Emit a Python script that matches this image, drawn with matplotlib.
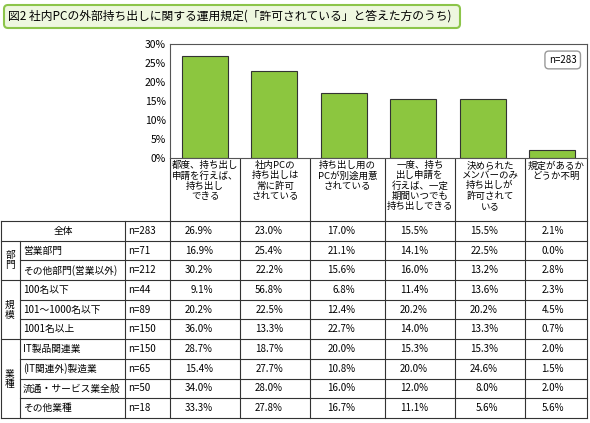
import matplotlib
matplotlib.use("Agg")
import matplotlib.pyplot as plt
from matplotlib.patches import FancyBboxPatch

plt.rcParams['font.family'] = ['Noto Sans CJK JP', 'DejaVu Sans']

title = "図2 社内PCの外部持ち出しに関する運用規定(「許可されている」と答えた方のうち)"
categories = ["都度、持ち出し\n申請を行えば、\n持ち出し\nできる", "社内PCの\n持ち出しは\n常に許可\nされている",
              "持ち出し用の\nPCが別途用意\nされている", "一度、持ち\n出し申請を\n行えば、一定\n期間いつでも\n持ち出しできる",
              "決められた\nメンバーのみ\n持ち出しが\n許可されて\nいる", "規定があるか\nどうか不明"]
overall = [26.9, 23.0, 17.0, 15.5, 15.5, 2.1]
yticks = [0, 5, 10, 15, 20, 25, 30]
row_labels = ["全体", "営業部門", "その他部門(営業以外)", "100名以下", "101～1000名以下", "1001名以上",
              "IT製品関連業", "(IT関連外)製造業", "流通・サービス業全般", "その他業種"]
row_n = [283, 71, 212, 44, 89, 150, 150, 65, 50, 18]
table = [
    [26.9, 23.0, 17.0, 15.5, 15.5, 2.1],
    [16.9, 25.4, 21.1, 14.1, 22.5, 0.0],
    [30.2, 22.2, 15.6, 16.0, 13.2, 2.8],
    [9.1, 56.8, 6.8, 11.4, 13.6, 2.3],
    [20.2, 22.5, 12.4, 20.2, 20.2, 4.5],
    [36.0, 13.3, 22.7, 14.0, 13.3, 0.7],
    [28.7, 18.7, 20.0, 15.3, 15.3, 2.0],
    [15.4, 27.7, 10.8, 20.0, 24.6, 1.5],
    [34.0, 28.0, 16.0, 12.0, 8.0, 2.0],
    [33.3, 27.8, 16.7, 11.1, 5.6, 5.6],
]
groups = [("部\n門", 1, 3), ("規\n模", 3, 6), ("業\n種", 6, 10)]

W, H = 590, 423
fig = plt.figure(figsize=(W/100, H/100), dpi=100)
bg = fig.add_axes([0, 0, 1, 1])
bg.set_xlim(0, W); bg.set_ylim(H, 0); bg.axis('off')

# title
bg.add_patch(FancyBboxPatch((4, 5), 456, 23, boxstyle="round,pad=0,rounding_size=4",
                            fc="#eef7df", ec="#8cc54a", lw=1.5))
bg.text(8, 16.5, title, fontsize=8.5, va='center', ha='left')

colx = [170, 240, 310, 385, 455, 525, 587]
top, bot = 44, 158
ax = fig.add_axes([colx[0]/W, 1-bot/H, (colx[-1]-colx[0])/W, (bot-top)/H])
xs = list(range(len(overall)))
ax.bar(xs, overall, width=0.66, color="#8cc63f", edgecolor="#333333", lw=0.8)
ax.set_xlim(-0.5, len(overall)-0.5)
ax.set_ylim(0, 30)
ax.set_yticks(yticks)
ax.set_yticklabels([f"{v}%" for v in yticks], fontsize=7.5)
ax.set_xticks([])
ax.tick_params(axis='y', length=0, pad=3)
for s in ax.spines.values():
    s.set_color("#555555"); s.set_linewidth(0.8)
ax.text(0.975, 0.86, "n=283", transform=ax.transAxes, ha='right', va='center', fontsize=7,
        bbox=dict(boxstyle="round,pad=0.4", fc="white", ec="#999999"))

lc, lw = "#333333", 0.8
# header cells
for x in colx:
    bg.plot([x, x], [bot, 221], color=lc, lw=lw)
for i, c in enumerate(categories):
    bg.text((colx[i]+colx[i+1])/2, bot+3, c, fontsize=6.8, ha='center', va='top', linespacing=1.15)

rows_y = [221 + 19.7*i for i in range(11)]
# horizontal lines
for i, y in enumerate(rows_y):
    starts_group = i in (0, 1, 3, 6, 10)
    bg.plot([1 if starts_group else 20, 587], [y, y], color=lc, lw=lw)
for x in [1, 125] + colx:
    bg.plot([x, x], [rows_y[0], rows_y[-1]], color=lc, lw=lw)
bg.plot([20, 20], [rows_y[1], rows_y[-1]], color=lc, lw=lw)
for name, a, b in groups:
    bg.text(10, (rows_y[a]+rows_y[b])/2, name, fontsize=7, ha='center', va='center', linespacing=1.0)
for r in range(len(row_labels)):
    yc = (rows_y[r]+rows_y[r+1])/2
    if r == 0:
        bg.text(63, yc, row_labels[r], fontsize=7, ha='center', va='center')
    else:
        bg.text(23, yc, row_labels[r], fontsize=7, ha='left', va='center')
    bg.text(128, yc, f"n={row_n[r]}", fontsize=7, ha='left', va='center')
    for j, v in enumerate(table[r]):
        bg.text((colx[j]+colx[j+1])/2 + 8, yc, f"{v:.1f}%", fontsize=7, ha='right', va='center')

fig.savefig("out.png", dpi=100, facecolor="white")
